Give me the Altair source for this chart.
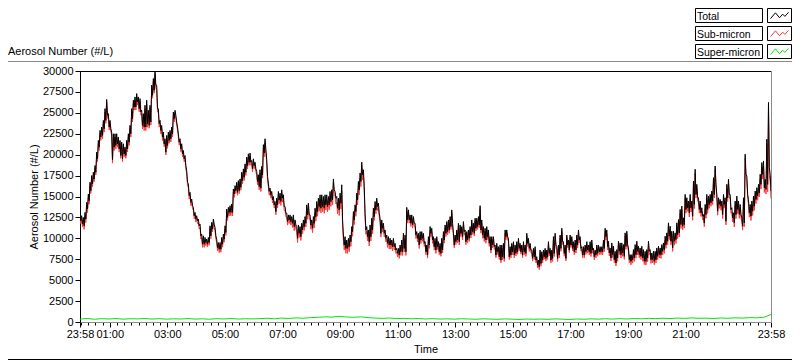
import altair as alt
import numpy as np
import pandas as pd

# ---- data (minutes after 23:58, #/L) ----
# Total number concentration, read as successive high/low excursions
total = [
    13100, 12100, 12700, 11700, 12500, 11500, 13100, 12300, 14300, 13500, 15300, 14500, 16700, 15700, 17500, 16500, 17900, 17100, 18700, 17900,
    20300, 19500, 21700, 20900, 22900, 22100, 23300, 22300, 24100, 23100, 25500, 24100, 26600, 24700, 24900, 23300, 24100, 23100, 22700, 19400,
    22500, 20900, 22500, 21100, 22500, 21300, 22100, 20700, 21700, 19900, 21500, 19500, 21300, 20100, 20900, 19900, 21700, 20700, 22500, 21500,
    23500, 22500, 25500, 24300, 26500, 25700, 26900, 25700, 27300, 26300, 26900, 25500, 26700, 25100, 25300, 23500, 24900, 23300, 25900, 23300,
    26500, 23700, 25300, 23500, 25900, 23900, 28300, 27100, 29100, 27700, 30000, 28300, 28300, 25500, 25500, 23700, 24100, 22900, 23500, 22100,
    22700, 21300, 21900, 20300, 22300, 21100, 22700, 21700, 22900, 21900, 23300, 22500, 25100, 24300, 25300, 24700, 23900, 23300, 22500, 21500,
    21900, 20700, 21300, 20100, 20500, 19500, 19900, 18700, 18100, 16700, 16500, 15100, 15500, 14300, 14700, 13900, 13700, 12700, 13100, 12300,
    12700, 12100, 12300, 11500, 11700, 10300, 10500, 9300, 10300, 9300, 10100, 9500, 9900, 9300, 10100, 9500, 11500, 10300, 11900, 11100,
    12300, 11700, 11300, 10300, 9900, 8900, 9500, 8700, 9500, 8700, 10100, 9300, 10500, 9900, 11500, 10700, 13500, 12500, 13700, 13100,
    13900, 13100, 14100, 13100, 15900, 15300, 16300, 15700, 16700, 15500, 16900, 15700, 17100, 16100, 17900, 16900, 18300, 17300, 18900, 17900,
    19700, 18700, 20100, 19100, 20200, 19100, 19300, 18300, 19500, 18700, 19100, 18300,
    18000, 16800, 17600, 16200, 18200, 16000, 18600, 17600, 21200, 20200, 21900, 20600, 19400, 17400, 16600, 15600, 16000, 15200, 15600, 14600,
    15000, 14000, 14400, 13200, 14800, 14000, 15600, 14600, 15400, 14400, 15800, 14800, 15200, 13800, 13800, 13000, 13000, 12000, 12800, 12200,
    12800, 12000, 12600, 11800, 12800, 11400, 12200, 11600, 11400, 10000, 11600, 10600, 11400, 10200, 11800, 11000, 12200, 11400, 12600, 11800,
    14000, 12800, 14200, 12800, 12800, 11600, 12200, 11200, 12600, 11800, 13600, 12600, 14400, 13200, 14800, 13800, 15200, 13600, 15200, 13800,
    15000, 13600, 15200, 14000, 15200, 13800, 15000, 14000, 15600, 14400, 15800, 14600, 17100, 15800, 15600, 14800, 15000, 13600, 14800, 13400,
    15400, 14200, 16400, 12200, 10400, 9200, 10200, 8800, 9800, 8800, 10000, 9000, 10400, 9600, 11400, 10800, 13200, 12200, 14000, 13200,
    15400, 14600, 16800, 15800, 17800, 16800, 19100, 17600, 18200, 16200, 13000, 11000, 11400, 10200, 11000, 9600, 11600, 10200, 12400, 11000,
    13600, 12600, 14400, 13400, 14800, 13800, 14200, 13000, 12400, 10600, 12200, 11200, 11800, 10600, 11000, 10000, 10400, 9400, 10200, 9200,
    10000, 9200, 9800, 9000, 10000, 9000, 9400, 8600, 8800, 8200, 8800, 8000, 9200, 8400, 9800, 8400, 10600, 8800, 10400, 8400,
    13700, 12200, 13400, 12200, 12800, 11800, 12800, 11600, 12600, 11800, 11800, 10400, 10800, 10000, 10600, 9200, 10800, 9800, 10800, 10000,
    10600, 9400, 9600, 8400, 9200, 8000, 10200, 9200, 11400, 10600,
    11200, 9800, 10200, 9000, 10000, 8600, 10200, 9000, 9600, 8400, 9400, 8200, 10000, 8600, 10800, 9800, 11600, 10600, 12000, 10800,
    12200, 11000, 12600, 11400, 13400, 11800, 10600, 9200, 10400, 9600, 11000, 9800, 11800, 9600, 11600, 10600, 11400, 10200, 12000, 10800,
    11000, 9600, 10800, 9800, 11000, 10000, 11400, 10400, 12200, 10800, 11800, 10600, 12400, 11200, 12400, 11400, 12600, 11600, 13900, 11000,
    12200, 10400, 11400, 10000, 11200, 9800, 11400, 10200, 11000, 9400, 10200, 8600, 10200, 9200, 10200, 9000, 9200, 8000, 9400, 8400,
    9000, 7800, 9200, 7400, 9200, 7800, 9400, 7600, 11000, 10200, 11000, 10200, 10000, 7800, 9000, 8000, 9400, 8400, 9600, 8000,
    9200, 8200, 9600, 8400, 10000, 8800, 9400, 8400, 9200, 8000, 9600, 8400, 9200, 8200, 10600, 9400, 10000, 8800, 9400, 8600,
    8600, 7600, 8800, 7800, 9000, 7400, 7800, 6800, 7400, 6600, 8600, 7000, 8400, 7400, 8600, 7800, 8800, 7600, 8600, 7800,
    9600, 8200, 8800, 7400, 8600, 7600, 10200, 8200, 10600, 9200, 9000, 7600, 9200, 8000, 10400, 8800, 11200, 9600, 9600, 8200,
    9200, 7600, 10400, 9200, 9800, 8600, 10400, 9200, 10200, 8800, 9600, 8400, 9800, 8600, 10400, 9200, 11000, 9800, 10200, 8800,
    9000, 8000, 9000, 8000, 9200, 8400, 9600, 8600, 9200, 8400, 9600, 8200, 9800, 8600, 8800, 7800, 8600, 8000, 9200, 8200,
    9200, 8400, 9000, 8400, 9000, 8400, 9800, 8800, 11200, 10200, 11000, 9000,
    9650, 8250, 8850, 7650, 9450, 8050, 9050, 7450, 8450, 7050, 8650, 7650, 9650, 8450, 9450, 8050, 9450, 8250, 9250, 7850,
    10650, 9050, 10850, 9250, 8850, 7450, 8050, 7250, 8050, 7450, 8650, 7650, 9250, 8050, 9650, 8450, 9050, 8050, 8850, 7850,
    9050, 7650, 8650, 7250, 8450, 7250, 8650, 7650, 9650, 8450, 8650, 7450, 8250, 7450, 8450, 7250, 8450, 7450, 8850, 7850,
    9050, 8050, 8850, 8050, 9250, 8450, 9450, 8650, 10250, 9250, 10650, 9650, 11850, 10250, 11450, 9650, 10850, 8850, 10850, 9650,
    10650, 9850, 11850, 10450, 12250, 10650, 13450, 11650, 13850, 11450, 12450, 11650, 15250, 13450, 14850, 13650, 14450, 13050, 15250, 13650,
    14450, 12650, 16850, 14050, 18250, 15250, 16450, 14850, 14850, 13450, 14450, 13050, 13650, 12650, 12850, 11850, 14050, 12850, 15250, 13450,
    15050, 14050, 15250, 14250, 15650, 14450, 17250, 15250, 18650, 16450, 15250, 13250, 14850, 14050, 14650, 13850, 14450, 12850, 15250, 14050,
    14850, 12050, 16450, 14850, 17050, 15250, 15250, 13450, 13650, 12450, 13050, 11850, 14450, 12850, 15050, 13450, 14450, 12850, 14050, 12850,
    12450, 11450, 14850, 11850, 20050, 17650, 17450, 15250, 14650, 13050, 14050, 12650, 14450, 13250, 15050, 13850, 15650, 14650, 16050, 15050,
    16450, 15450, 17650, 16450, 19050, 17650, 19250, 16050, 17050, 15850, 21850, 16450, 26250, 18450, 17650, 15650,
]

# Super-micron number concentration, every 15 minutes
super_micron = [
    350, 420, 330, 400, 360, 410, 340, 390, 370,
    420, 350, 400, 340, 380, 360, 410, 350,
    380, 330, 400, 360, 420, 350, 390, 370,
    400, 450, 380, 470, 420, 500, 450, 520,
    560, 620, 580, 680, 600, 560, 620, 520,
    470, 430, 480, 400, 440, 380, 420, 360,
    400, 350, 380, 340, 390, 360, 330, 380,
    350, 320, 370, 340, 300, 360, 330, 350,
    320, 370, 340, 300, 360, 330, 380, 340,
    390, 350, 400, 360, 420, 380, 440, 400,
    450, 410, 470, 430, 490, 440, 460, 420,
    480, 440, 500, 460, 520, 500, 560, 900,
]

series_names = ["Total", "Sub-micron", "Super-micron"]
series_colors = ["#000000", "#ff3838", "#00e600"]
y_ticks = [0, 2500, 5000, 7500, 10000, 12500, 15000, 17500, 20000, 22500, 25000, 27500, 30000]
x_tick_minutes = [0, 62, 182, 302, 422, 542, 662, 782, 902, 1022, 1142, 1262, 1440]
x_tick_labels = ["23:58", "01:00", "03:00", "05:00", "07:00", "09:00", "11:00",
                 "13:00", "15:00", "17:00", "19:00", "21:00", "23:58"]
minor_tick_minutes = list(range(2, 1441, 15))

# ---- tables ----
n = len(total)
t_total = np.linspace(0, 1440, n)
m = len(super_micron)
t_super = np.linspace(0, 1440, m)
nearest = np.rint(t_total / (1440 / (m - 1))).astype(int)
# sub-micron = total - super-micron
sub_micron = np.array(total, dtype=float) - np.array(super_micron, dtype=float)[nearest]

df_tot = pd.DataFrame({"t": t_total, "v": total})
df_sub = pd.DataFrame({"t": t_total, "v": sub_micron})
df_sup = pd.DataFrame({"t": t_super, "v": super_micron})
one = pd.DataFrame({"k": [0]})

W, H = 691, 251
FONT = "Liberation Sans"

xs = alt.Scale(domain=[0, 1440], nice=False, zero=False)
ys = alt.Scale(domain=[0, 30000], nice=False, zero=False)

label_expr = " : ".join(
    f"datum.value === {v} ? '{s}'" for v, s in zip(x_tick_minutes, x_tick_labels)
) + " : ''"

y_axis = alt.Axis(values=y_ticks, format="d", title="Aerosol Number (#/L)", grid=False,
                  tickSize=5, tickColor="black", domainColor="black", labelColor="black",
                  labelFont=FONT, labelFontSize=11, labelPadding=2, labelFlush=False,
                  titleFont=FONT, titleFontSize=11, titleFontWeight="normal",
                  titleColor="black", titlePadding=3)
x_major = alt.Axis(orient="bottom", values=x_tick_minutes, labelExpr=label_expr, title="Time",
                   grid=False, tickSize=5, tickColor="black", domainColor="#8a8a8a",
                   labelColor="black", labelFont=FONT, labelFontSize=11, labelPadding=1,
                   labelFlush=False, labelOverlap=False, titleFont=FONT, titleFontSize=11,
                   titleFontWeight="normal", titleColor="black", titlePadding=4)
x_minor = alt.Axis(orient="bottom", values=minor_tick_minutes, labels=False, title=None,
                   grid=False, domain=False, tickSize=3, tickColor="black")

sup = alt.Chart(df_sup).mark_line(color=series_colors[2], strokeWidth=1, clip=True).encode(
    x=alt.X("t:Q", scale=xs, axis=x_minor), y=alt.Y("v:Q", scale=ys, axis=y_axis))
sub = alt.Chart(df_sub).mark_line(color=series_colors[1], strokeWidth=1, clip=True).encode(
    x=alt.X("t:Q", scale=xs, axis=x_major), y=alt.Y("v:Q", scale=ys, axis=y_axis))
tot = alt.Chart(df_tot).mark_line(color=series_colors[0], strokeWidth=1, clip=True).encode(
    x=alt.X("t:Q", scale=xs, axis=None), y=alt.Y("v:Q", scale=ys, axis=y_axis))

def rule(x, x2, y, y2, color):
    return alt.Chart(one).mark_rule(color=color, strokeWidth=1).encode(
        x=alt.value(x), x2=alt.value(x2), y=alt.value(y), y2=alt.value(y2))

frame = [
    rule(0, W, 0.5, 0.5, "black"),             # plot top
    rule(W + 0.5, W + 0.5, 0, H, "#8a8a8a"),   # plot right
    rule(-80, 720, -9.5, -9.5, "#8a8a8a"),     # panel top
    rule(-80, 720, 288.5, 288.5, "#000000"),   # panel bottom
]

title_txt = alt.Chart(one).mark_text(align="left", baseline="alphabetic", font=FONT,
                                     fontSize=11, color="black").encode(
    x=alt.value(-72), y=alt.value(-16), text=alt.value("Aerosol Number (#/L)"))

zig = "M-1,0.35L-0.45,-0.3L0,0.25L0.35,-0.15L0.6,0.1L1,-0.35"
legend_layers = []
for i, (name, col) in enumerate(zip(series_names, series_colors)):
    top = -62.5 + 18 * i
    bot = top + 14
    legend_layers.append(alt.Chart(one).mark_rect(fill="white", stroke="black", strokeWidth=1).encode(
        x=alt.value(615.5), x2=alt.value(682.5), y=alt.value(top), y2=alt.value(bot)))
    legend_layers.append(alt.Chart(one).mark_rect(fill="white", stroke="black", strokeWidth=1).encode(
        x=alt.value(687.5), x2=alt.value(711.5), y=alt.value(top), y2=alt.value(bot)))
    legend_layers.append(alt.Chart(one).mark_text(align="left", baseline="alphabetic", font=FONT,
                                                  fontSize=10.5, color="black").encode(
        x=alt.value(617), y=alt.value(top + 11), text=alt.value(name)))
    legend_layers.append(alt.Chart(one).mark_point(shape=zig, filled=False, size=324, strokeWidth=1,
                                                   opacity=1, color=col).encode(
        x=alt.value(699.5), y=alt.value((top + bot) / 2)))

chart = alt.layer(sup, sub, tot, *frame, title_txt, *legend_layers).resolve_scale(
    x="independent"
).properties(
    width=W, height=H,
    autosize=alt.AutoSizeParams(type="none"),
    padding={"left": 72, "top": 63, "right": 21, "bottom": 39},
    background="white",
).configure_view(stroke=None)

chart.save("out.html", embed_options={"renderer": "svg", "actions": False})
